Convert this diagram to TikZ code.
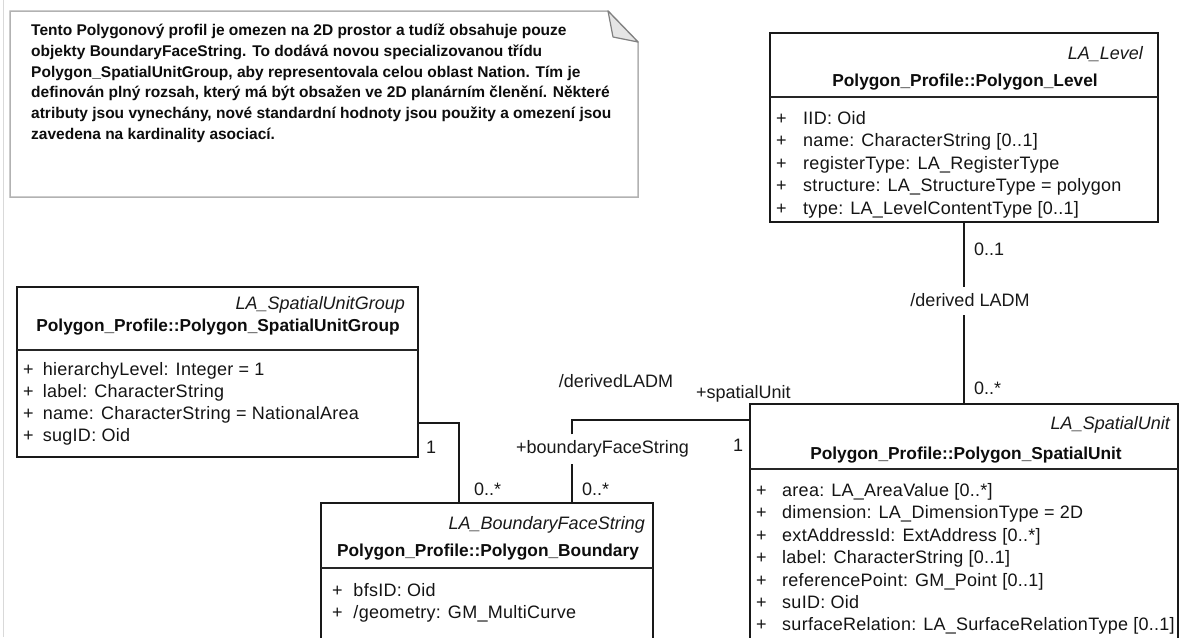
\documentclass[tikz,border=0pt]{standalone}
\usepackage{fontspec}
\setmainfont{Liberation Sans}
\newfontfamily\attrfont[LetterSpace=1.5]{Liberation Sans}
% "+" marker followed by a fixed gap before the attribute name
\newcommand\attrplus[1]{\makebox[#1][l]{+}}
\begin{document}
\begin{tikzpicture}[x=1pt,y=-1pt,
  classbox/.style={draw=black!90, line width=2.1, fill=white, inner sep=0, outer sep=0},
  sepline/.style={draw=black!85, line width=1.6},
  assoc/.style={draw=black!90, line width=1.9},
  stereo/.style={font=\fontsize{18}{21.6}\selectfont\itshape, text=black!90, inner sep=0, anchor=base east},
  ctitle/.style={font=\fontsize{17.3}{20}\selectfont\bfseries, text=black!95, inner sep=0, anchor=base},
  attrs/.style={font=\attrfont\fontsize{18}{22.4}\selectfont, text=black!92, inner sep=0, anchor=north west, align=left},
  role/.style={font=\fontsize{18}{21.6}\selectfont, text=black!90, inner sep=0, anchor=base west},
  gaplabel/.style={role, text height=14, text depth=4, inner xsep=0, inner ysep=5},
  notebody/.style={font=\fontsize{15.5}{20.7}\selectfont\bfseries, text=black!95, inner sep=0, anchor=north west, align=left},
]
\useasboundingbox (0,0) rectangle (1183,637);
\clip (0,0) rectangle (1183,637);
\fill[white] (0,0) rectangle (1183,637);
\draw[black!15, line width=1] (3,0) -- (3,637);

% comment note with folded corner
\draw[black!30, line width=1.5, fill=white] (10,11) -- (608,11) -- (638,42) -- (638,197) -- (10,197) -- cycle;
\draw[black!50, line width=1.2, fill=black!10, line join=round] (608,11) -- (613,37) -- (638,42) -- cycle;
\node[notebody] (notetext) at (31,21) {\strut Tento Polygonový profil je omezen na 2D prostor a tudíž obsahuje pouze\\
objekty BoundaryFaceString. To dodává novou specializovanou třídu\\
Polygon\_SpatialUnitGroup, aby representovala celou oblast Nation. Tím je\\
definován plný rozsah, který má být obsažen ve 2D planárním členění. Některé\\
atributy jsou vynechány, nové standardní hodnoty jsou použity a omezení jsou\\
zavedena na kardinality asociací.};

% class Polygon_Level
\node[classbox, minimum width=388, minimum height=189] (level) at (964,127.5) {};
\draw[sepline] (level.west |- 0,97) -- (level.east |- 0,97);
\node[stereo] (levelst) at (1143,59.5) {LA\_Level};
\node[ctitle] (levelti) at (965,86.3) {Polygon\_Profile::Polygon\_Level};
\node[attrs] (levelat) at (776,108.7) {\strut\attrplus{27pt}IID: Oid\\
\attrplus{27pt}name: CharacterString [0..1]\\
\attrplus{27pt}registerType: LA\_RegisterType\\
\attrplus{27pt}structure: LA\_StructureType = polygon\\
\attrplus{27pt}type: LA\_LevelContentType [0..1]};

% class Polygon_SpatialUnitGroup
\node[classbox, minimum width=401, minimum height=170] (sug) at (217.5,372) {};
\draw[sepline] (sug.west |- 0,350) -- (sug.east |- 0,350);
\node[stereo] (sugst) at (405,309.5) {LA\_SpatialUnitGroup};
\node[ctitle] (sugti) at (218,331.3) {Polygon\_Profile::Polygon\_SpatialUnitGroup};
\node[attrs, font=\attrfont\fontsize{18}{21.8}\selectfont] (sugat) at (23,360.5) {\strut\attrplus{19.7pt}hierarchyLevel: Integer = 1\\
\attrplus{19.7pt}label: CharacterString\\
\attrplus{19.7pt}name: CharacterString = NationalArea\\
\attrplus{19.7pt}sugID: Oid};

% class Polygon_Boundary
\node[classbox, minimum width=332, minimum height=177] (bnd) at (487,591.5) {};
\draw[sepline] (bnd.west |- 0,568) -- (bnd.east |- 0,568);
\node[stereo] (bndst) at (645,529.5) {LA\_BoundaryFaceString};
\node[ctitle] (bndti) at (488,556.3) {Polygon\_Profile::Polygon\_Boundary};
\node[attrs] (bndat) at (332,580.2) {\strut\attrplus{21.3pt}bfsID: Oid\\
\attrplus{21.3pt}/geometry: GM\_MultiCurve};

% class Polygon_SpatialUnit
\node[classbox, minimum width=428, minimum height=276] (su) at (964,542) {};
\draw[sepline] (su.west |- 0,469) -- (su.east |- 0,469);
\node[stereo] (sust) at (1170,429.5) {LA\_SpatialUnit};
\node[ctitle] (suti) at (966,459.3) {Polygon\_Profile::Polygon\_SpatialUnit};
\node[attrs] (suat) at (756,480.7) {\strut\attrplus{26pt}area: LA\_AreaValue [0..*]\\
\attrplus{26pt}dimension: LA\_DimensionType = 2D\\
\attrplus{26pt}extAddressId: ExtAddress [0..*]\\
\attrplus{26pt}label: CharacterString [0..1]\\
\attrplus{26pt}referencePoint: GM\_Point [0..1]\\
\attrplus{26pt}suID: Oid\\
\attrplus{26pt}surfaceRelation: LA\_SurfaceRelationType [0..1]};

% association Polygon_Level -- Polygon_SpatialUnit
\node[gaplabel, anchor=base] (lvlab) at (970,306) {/derived LADM};
\draw[assoc] (level.south) -- (level.south |- lvlab.north);
\draw[assoc] (su.north |- lvlab.south) -- (su.north);
\node[role] (lvm1) at (974,255) {0..1};
\node[role] (lvm2) at (974,394.5) {0..*};

% association Polygon_SpatialUnitGroup -- Polygon_Boundary
\coordinate (sugbend) at (459,423);
\draw[assoc] (sug.east |- sugbend) -- (sugbend) -- (sugbend |- bnd.north);
\node[role] (sugm1) at (426,453.5) {1};
\node[role] (sugm2) at (474,495.5) {0..*};

% association Polygon_Boundary -- Polygon_SpatialUnit
\coordinate (bndbend) at (572,420);
\node[gaplabel, anchor=base west, text depth=5] (bfslab) at (516,453.5) {+boundaryFaceString};
\draw[assoc] (bndbend |- bnd.north) -- (bndbend |- bfslab.south);
\draw[assoc] (bndbend |- bfslab.north) -- (bndbend) -- (bndbend -| su.west);
\node[role] (bndm1) at (582,495.5) {0..*};
\node[role] (sum1) at (733,451.5) {1};
\node[role] (sulab) at (696,398.5) {+spatialUnit};
\node[role, anchor=base] (dlab) at (616,387.5) {/derivedLADM};
\end{tikzpicture}
\end{document}
